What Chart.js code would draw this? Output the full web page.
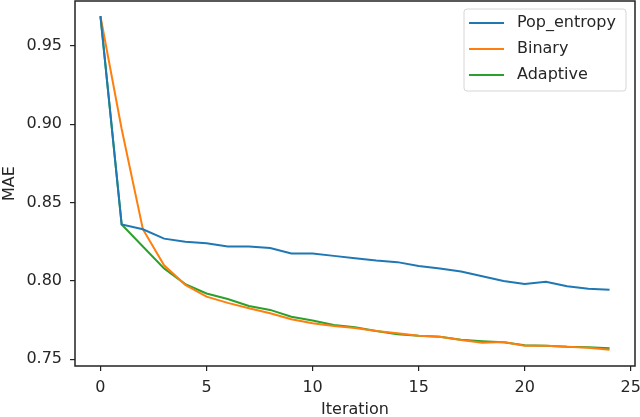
<!DOCTYPE html>
<html>
<head>
<meta charset="utf-8">
<script src="https://cdn.jsdelivr.net/npm/chart.js@4"></script>
<style>
  html, body { margin: 0; padding: 0; background: #fff; }
  #wrap { width: 640px; height: 417px; }
</style>
</head>
<body>
<div id="wrap"><canvas id="mychart" width="640" height="417"></canvas></div>
<script>
const iterations = [0,1,2,3,4,5,6,7,8,9,10,11,12,13,14,15,16,17,18,19,20,21,22,23,24];
const popEntropy = [0.969,0.836,0.833,0.827,0.825,0.824,0.822,0.822,0.821,0.8175,0.8175,0.816,0.8145,0.813,0.812,0.8096,0.808,0.806,0.803,0.800,0.798,0.7994,0.7966,0.795,0.7944];
const binary = [0.969,0.897,0.833,0.810,0.7975,0.790,0.786,0.7826,0.7794,0.7755,0.773,0.7713,0.770,0.768,0.7666,0.765,0.7644,0.7623,0.7606,0.761,0.7587,0.7587,0.758,0.7574,0.7561];
const adaptive = [0.969,0.836,0.822,0.808,0.798,0.792,0.7885,0.784,0.7815,0.7772,0.7747,0.7719,0.7705,0.768,0.766,0.765,0.7644,0.7625,0.7615,0.7608,0.759,0.7587,0.758,0.7576,0.757];
const xTicks = [0,5,10,15,20,25];
const yTicks = [0.75,0.80,0.85,0.90,0.95];

const FONT = 'DejaVu Sans';
const TEXT = '#262626';

function pts(vals){
	return vals.map(function(v,i){ return {x: iterations[i], y: v}; });
}

// frame round the plot area and the legend box inside it
const framePlugin = {
	id: 'frame',
	afterDraw(chart){
		const c = chart.ctx, a = chart.chartArea;
		c.save();
		c.strokeStyle = '#222';
		c.lineWidth = 1.5;
		c.strokeRect(a.left, a.top, a.right - a.left, a.bottom - a.top);

		// legend
		const bx = a.right - 171, by = a.top + 8, bw = 162, bh = 82;
		c.fillStyle = 'rgba(255,255,255,0.8)';
		c.strokeStyle = '#d6d6d6';
		c.lineWidth = 1;
		c.beginPath();
		c.roundRect(bx, by, bw, bh, 3);
		c.fill();
		c.stroke();
		c.font = '16px "' + FONT + '"';
		c.textBaseline = 'middle';
		chart.data.datasets.forEach(function(ds, i){
			const y = by + 14 + i * 26;
			c.strokeStyle = ds.borderColor;
			c.lineWidth = 2.2;
			c.beginPath();
			c.moveTo(bx + 5, y);
			c.lineTo(bx + 40, y);
			c.stroke();
			c.fillStyle = TEXT;
			c.fillText(ds.label, bx + 53, y);
		});
		c.restore();
	}
};

var ctx = document.getElementById('mychart').getContext('2d');
var myChart = new Chart(ctx, {
	type: 'line',
	data: {
		datasets: [{
			label: 'Pop_entropy',
			data: pts(popEntropy),
			borderColor: '#1f77b4',
			backgroundColor: '#1f77b4',
			borderWidth: 2,
			fill: false,
			pointRadius: 0
		},
		{
			label: 'Binary',
			data: pts(binary),
			borderColor: '#ff7f0e',
			backgroundColor: '#ff7f0e',
			borderWidth: 2,
			fill: false,
			pointRadius: 0
		},
		{
			label: 'Adaptive',
			data: pts(adaptive),
			borderColor: '#2ca02c',
			backgroundColor: '#2ca02c',
			borderWidth: 2,
			fill: false,
			pointRadius: 0
		}]
	},
	options: {
		responsive: false,
		animation: false,
		layout: { padding: { top: 1, right: 5, left: 0, bottom: 0 } },
		plugins: {
			legend: { display: false },
			tooltip: { enabled: false }
		},
		scales: {
			x: {
				type: 'linear',
				min: -1.2,
				max: 25.2,
				afterBuildTicks: function(s){ s.ticks = xTicks.map(function(v){ return {value: v}; }); },
				afterFit: function(s){ s.height = 51; s.paddingLeft = 0; s.paddingRight = 0; },
				grid: { display: true, drawOnChartArea: false, drawTicks: true, tickLength: 5, color: '#222', lineWidth: 1.2 },
				border: { display: false },
				ticks: { color: TEXT, font: { family: FONT, size: 16 }, padding: 7, maxRotation: 0 },
				title: { display: true, text: 'Iteration', color: TEXT, font: { family: FONT, size: 16 }, padding: { top: 0, bottom: -2 } }
			},
			y: {
				min: 0.7457,
				max: 0.9787,
				afterBuildTicks: function(s){ s.ticks = yTicks.map(function(v){ return {value: v}; }); },
				afterFit: function(s){ s.width = 75; s.paddingTop = 0; s.paddingBottom = 0; },
				grid: { display: true, drawOnChartArea: false, drawTicks: true, tickLength: 5, color: '#222', lineWidth: 1.2 },
				border: { display: false },
				ticks: { color: TEXT, font: { family: FONT, size: 16 }, padding: 8, callback: function(v){ return v.toFixed(2); } },
				title: { display: true, text: 'MAE', color: TEXT, font: { family: FONT, size: 16 }, padding: { top: 0, bottom: 0 } }
			}
		}
	},
	plugins: [framePlugin]
});
</script>
</body>
</html>
